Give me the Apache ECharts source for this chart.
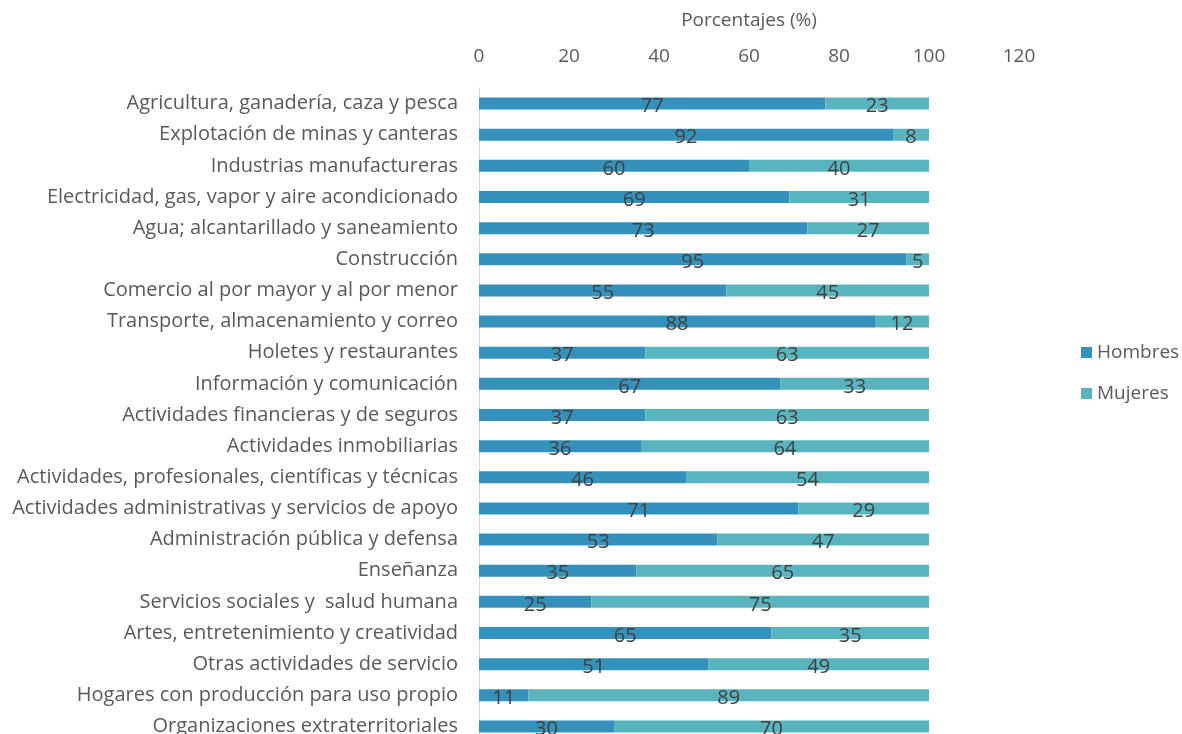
<!DOCTYPE html>
<html>
<head>
<meta charset="utf-8">
<title>Porcentajes por sector</title>
<script src="https://cdn.jsdelivr.net/npm/echarts@6/dist/echarts.min.js"></script>
<style>
  html, body { margin: 0; padding: 0; background: #fff; }
  #main { width: 1182px; height: 734px; }
</style>
</head>
<body>
<div id="main"></div>
<script type="text/javascript">
var sectores = [
  'Agricultura, ganadería, caza y pesca',
  'Explotación de minas y canteras',
  'Industrias manufactureras',
  'Electricidad, gas, vapor y aire acondicionado',
  'Agua; alcantarillado y saneamiento',
  'Construcción',
  'Comercio al por mayor y al por menor',
  'Transporte, almacenamiento y correo',
  'Holetes y restaurantes',
  'Información y comunicación',
  'Actividades financieras y de seguros',
  'Actividades inmobiliarias',
  'Actividades, profesionales, científicas y técnicas',
  'Actividades administrativas y servicios de apoyo',
  'Administración pública y defensa',
  'Enseñanza',
  'Servicios sociales y  salud humana',
  'Artes, entretenimiento y creatividad',
  'Otras actividades de servicio',
  'Hogares con producción para uso propio',
  'Organizaciones extraterritoriales'
];
var hombres = [77, 92, 60, 69, 73, 95, 55, 88, 37, 67, 37, 36, 46, 71, 53, 35, 25, 65, 51, 11, 30];
var mujeres = [23, 8, 40, 31, 27, 5, 45, 12, 63, 33, 63, 64, 54, 29, 47, 65, 75, 35, 49, 89, 70];

var fuente = '"Open Sans", sans-serif';
var etiqueta = {
  show: true,
  position: 'inside',
  color: '#404040',
  fontSize: 20,
  fontFamily: fuente,
  offset: [0, 3]
};

var myChart = echarts.init(document.getElementById('main'));
var option = {
  animation: false,
  textStyle: { fontFamily: fuente },
  grid: {
    left: 479, top: 88, width: 540, height: 654,
    containLabel: false,
    outerBoundsMode: 'none'
  },
  legend: {
    orient: 'vertical',
    left: 1076,
    top: 338,
    itemWidth: 11,
    itemHeight: 11,
    itemGap: 22,
    icon: 'rect',
    textStyle: { fontSize: 19, color: '#595959', fontFamily: fuente },
    data: ['Hombres', 'Mujeres']
  },
  xAxis: {
    type: 'value',
    position: 'top',
    min: 0,
    max: 120,
    interval: 20,
    name: 'Porcentajes (%)',
    nameLocation: 'middle',
    nameGap: 58,
    nameTextStyle: { fontSize: 19, color: '#595959', fontFamily: fuente },
    axisLine: { show: false },
    axisTick: { show: false },
    splitLine: { show: false },
    axisLabel: { fontSize: 19, color: '#595959', margin: 22, fontFamily: fuente }
  },
  yAxis: {
    type: 'category',
    inverse: true,
    data: sectores,
    axisLine: { show: true, lineStyle: { color: '#d9d9d9' } },
    axisTick: { show: false },
    axisLabel: { fontSize: 20, color: '#595959', margin: 21, fontFamily: fuente }
  },
  series: [{
    name: 'Hombres',
    type: 'bar',
    stack: 'total',
    barWidth: 12,
    itemStyle: { color: '#3391bc' },
    label: etiqueta,
    data: hombres
  }, {
    name: 'Mujeres',
    type: 'bar',
    stack: 'total',
    barWidth: 12,
    itemStyle: { color: '#58b5bf' },
    label: etiqueta,
    data: mujeres
  }]
};
myChart.setOption(option);
</script>
</body>
</html>
